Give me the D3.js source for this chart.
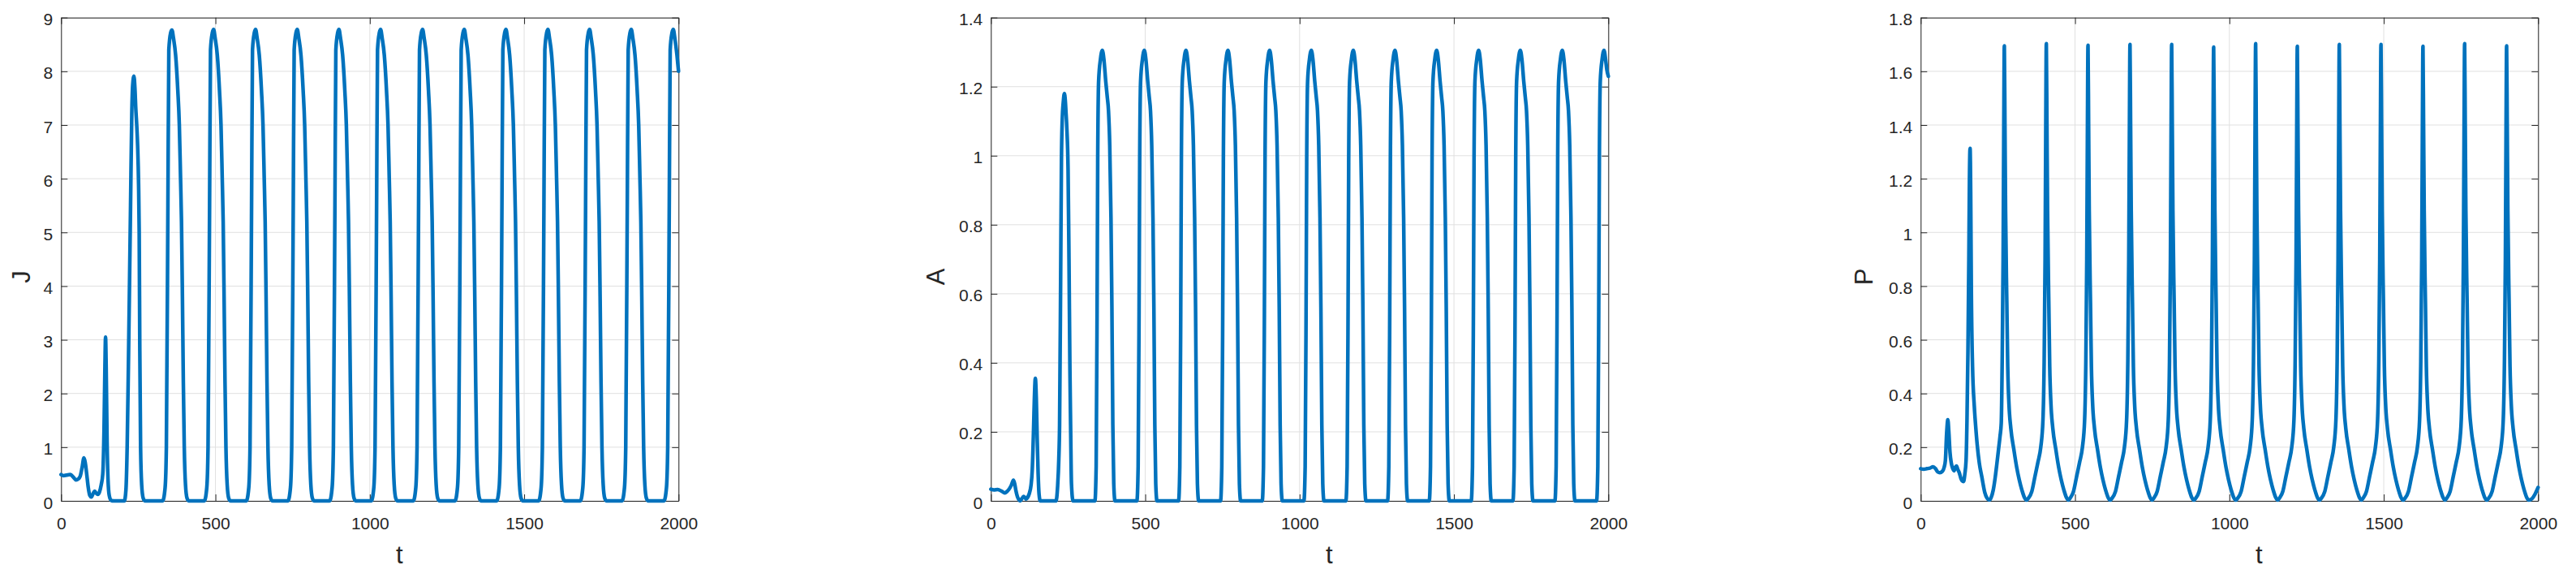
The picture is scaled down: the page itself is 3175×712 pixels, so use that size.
<!DOCTYPE html>
<html>
<head>
<meta charset="utf-8">
<script src="https://cdn.jsdelivr.net/npm/d3@7/dist/d3.min.js"></script>
<style>
  html, body { margin: 0; padding: 0; background: #ffffff; }
  svg { display: block; }
</style>
</head>
<body>
<svg id="chart" width="3175" height="712"></svg>
<script>
// ---------------- data ----------------
const xName = "t";
const yNames = ["J", "A", "P"];
const xTicks = [0, 500, 1000, 1500, 2000];
const xTickLabels = ["0", "500", "1000", "1500", "2000"];
const jTicks = [0, 1, 2, 3, 4, 5, 6, 7, 8, 9];
const jTickLabels = ["0", "1", "2", "3", "4", "5", "6", "7", "8", "9"];
const aTicks = [0, 0.2, 0.4, 0.6, 0.8, 1, 1.2, 1.4];
const aTickLabels = ["0", "0.2", "0.4", "0.6", "0.8", "1", "1.2", "1.4"];
const pTicks = [0, 0.2, 0.4, 0.6, 0.8, 1, 1.2, 1.4, 1.6, 1.8];
const pTickLabels = ["0", "0.2", "0.4", "0.6", "0.8", "1", "1.2", "1.4", "1.6", "1.8"];

// J(t)
const jSeries = [
  [0,0.49],[8,0.47],[18,0.48],[30,0.49],[40,0.44],[48,0.39],[56,0.41],[62,0.46],[68,0.62],[74,0.80],[78,0.72],[83,0.5],[88,0.25],[93,0.1],[98,0.07],[104,0.14],[109,0.18],[114,0.14],[119,0.12],[124,0.16],[130,0.3],[135,0.5],[139,1.3],[142,2.5],[144,3.05],[146,2.5],[149,1.1],[152,0.4],[156,0.1],[162,0.01],[170,0],
  [205,0],[210,0.2],[214,1.0],[218,2.5],[222,4.2],[225,5.5],[229,7.2],[232,7.75],[236,7.91],[239,7.7],[242,7.3],[245,7.0],[248,6.6],[251,5.9],[253,5.0],[255,2.8],[257.5,1.0],[261,0.3],[266,0.05],[272,0],
  [329,0],[337,0.25],[341,1],[346,5.5],[349,8.4],[355,8.72],[359,8.77],[364,8.62],[371,8.3],[378,7.65],[383,7],[387,6],[390,5.2],[393,3.8],[396,2.2],[399,1],[403,0.3],[408,0.05],[414,0],
  [464,0],[472,0.25],[476,1],[481,5.5],[484,8.4],[490,8.72],[494,8.78],[499,8.62],[506,8.3],[513,7.65],[518,7],[522,6],[525,5.2],[528,3.8],[531,2.2],[534,1],[538,0.3],[543,0.05],[549,0],
  [600,0],[608,0.25],[612,1],[617,5.5],[620,8.4],[626,8.72],[630,8.78],[635,8.62],[642,8.3],[649,7.65],[654,7],[658,6],[661,5.2],[664,3.8],[667,2.2],[670,1],[674,0.3],[679,0.05],[685,0],
  [735,0],[743,0.25],[747,1],[752,5.5],[755,8.4],[761,8.72],[765,8.78],[770,8.62],[777,8.3],[784,7.65],[789,7],[793,6],[796,5.2],[799,3.8],[802,2.2],[805,1],[809,0.3],[814,0.05],[820,0],
  [870,0],[878,0.25],[882,1],[887,5.5],[890,8.4],[896,8.72],[900,8.78],[905,8.62],[912,8.3],[919,7.65],[924,7],[928,6],[931,5.2],[934,3.8],[937,2.2],[940,1],[944,0.3],[949,0.05],[955,0],
  [1005,0],[1013,0.25],[1017,1],[1022,5.5],[1025,8.4],[1031,8.72],[1035,8.78],[1040,8.62],[1047,8.3],[1054,7.65],[1059,7],[1063,6],[1066,5.2],[1069,3.8],[1072,2.2],[1075,1],[1079,0.3],[1084,0.05],[1090,0],
  [1141,0],[1149,0.25],[1153,1],[1158,5.5],[1161,8.4],[1167,8.72],[1171,8.78],[1176,8.62],[1183,8.3],[1190,7.65],[1195,7],[1199,6],[1202,5.2],[1205,3.8],[1208,2.2],[1211,1],[1215,0.3],[1220,0.05],[1226,0],
  [1276,0],[1284,0.25],[1288,1],[1293,5.5],[1296,8.4],[1302,8.72],[1306,8.78],[1311,8.62],[1318,8.3],[1325,7.65],[1330,7],[1334,6],[1337,5.2],[1340,3.8],[1343,2.2],[1346,1],[1350,0.3],[1355,0.05],[1361,0],
  [1411,0],[1419,0.25],[1423,1],[1428,5.5],[1431,8.4],[1437,8.72],[1441,8.78],[1446,8.62],[1453,8.3],[1460,7.65],[1465,7],[1469,6],[1472,5.2],[1475,3.8],[1478,2.2],[1481,1],[1485,0.3],[1490,0.05],[1496,0],
  [1547,0],[1555,0.25],[1559,1],[1564,5.5],[1567,8.4],[1573,8.72],[1577,8.78],[1582,8.62],[1589,8.3],[1596,7.65],[1601,7],[1605,6],[1608,5.2],[1611,3.8],[1614,2.2],[1617,1],[1621,0.3],[1626,0.05],[1632,0],
  [1682,0],[1690,0.25],[1694,1],[1699,5.5],[1702,8.4],[1708,8.72],[1712,8.78],[1717,8.62],[1724,8.3],[1731,7.65],[1736,7],[1740,6],[1743,5.2],[1746,3.8],[1749,2.2],[1752,1],[1756,0.3],[1761,0.05],[1767,0],
  [1817,0],[1825,0.25],[1829,1],[1834,5.5],[1837,8.4],[1843,8.72],[1847,8.78],[1852,8.62],[1859,8.3],[1866,7.65],[1871,7],[1875,6],[1878,5.2],[1881,3.8],[1884,2.2],[1887,1],[1891,0.3],[1896,0.05],[1902,0],
  [1953,0],[1961,0.25],[1965,1],[1970,5.5],[1973,8.4],[1979,8.72],[1983,8.78],[1988,8.62],[1995,8.3],[2000,8.0]
];

// A(t)
const aSeries = [
  [0,0.034],[10,0.032],[22,0.033],[35,0.028],[45,0.023],[52,0.027],[58,0.033],[66,0.045],[73,0.06],[77,0.05],[81,0.03],[86,0.012],[91,0.003],[95,0],[100,0.006],[106,0.013],[110,0.01],[114,0.005],[119,0.01],[124,0.02],[130,0.045],[134,0.09],[138,0.2],[141,0.3],[144,0.355],[147,0.3],[150,0.18],[153,0.08],[156,0.02],[160,0],
  [211,0],[216,0.04],[220,0.12],[222.5,0.22],[226,0.65],[228.5,0.98],[231,1.1],[235,1.16],[238,1.18],[241,1.16],[243,1.13],[246,1.08],[250,0.96],[253,0.7],[256,0.38],[258.5,0.2],[261,0.05],[266,0],
  [337,0],[341,0.1],[344,0.55],[346,0.98],[349,1.216],[355,1.28],[361,1.305],[366,1.28],[372,1.216],[377,1.17],[381,1.13],[385,1.03],[389,0.82],[392,0.56],[395,0.22],[398,0.05],[402,0],
  [473,0],[477,0.1],[480,0.55],[482,0.98],[485,1.216],[491,1.28],[497,1.305],[502,1.28],[508,1.216],[513,1.17],[517,1.13],[521,1.03],[525,0.82],[528,0.56],[531,0.22],[534,0.05],[538,0],
  [608,0],[612,0.1],[615,0.55],[617,0.98],[620,1.216],[626,1.28],[632,1.305],[637,1.28],[643,1.216],[648,1.17],[652,1.13],[656,1.03],[660,0.82],[663,0.56],[666,0.22],[669,0.05],[673,0],
  [744,0],[748,0.1],[751,0.55],[753,0.98],[756,1.216],[762,1.28],[768,1.305],[773,1.28],[779,1.216],[784,1.17],[788,1.13],[792,1.03],[796,0.82],[799,0.56],[802,0.22],[805,0.05],[809,0],
  [879,0],[883,0.1],[886,0.55],[888,0.98],[891,1.216],[897,1.28],[903,1.305],[908,1.28],[914,1.216],[919,1.17],[923,1.13],[927,1.03],[931,0.82],[934,0.56],[937,0.22],[940,0.05],[944,0],
  [1014,0],[1018,0.1],[1021,0.55],[1023,0.98],[1026,1.216],[1032,1.28],[1038,1.305],[1043,1.28],[1049,1.216],[1054,1.17],[1058,1.13],[1062,1.03],[1066,0.82],[1069,0.56],[1072,0.22],[1075,0.05],[1079,0],
  [1150,0],[1154,0.1],[1157,0.55],[1159,0.98],[1162,1.216],[1168,1.28],[1174,1.305],[1179,1.28],[1185,1.216],[1190,1.17],[1194,1.13],[1198,1.03],[1202,0.82],[1205,0.56],[1208,0.22],[1211,0.05],[1215,0],
  [1285,0],[1289,0.1],[1292,0.55],[1294,0.98],[1297,1.216],[1303,1.28],[1309,1.305],[1314,1.28],[1320,1.216],[1325,1.17],[1329,1.13],[1333,1.03],[1337,0.82],[1340,0.56],[1343,0.22],[1346,0.05],[1350,0],
  [1420,0],[1424,0.1],[1427,0.55],[1429,0.98],[1432,1.216],[1438,1.28],[1444,1.305],[1449,1.28],[1455,1.216],[1460,1.17],[1464,1.13],[1468,1.03],[1472,0.82],[1475,0.56],[1478,0.22],[1481,0.05],[1485,0],
  [1556,0],[1560,0.1],[1563,0.55],[1565,0.98],[1568,1.216],[1574,1.28],[1580,1.305],[1585,1.28],[1591,1.216],[1596,1.17],[1600,1.13],[1604,1.03],[1608,0.82],[1611,0.56],[1614,0.22],[1617,0.05],[1621,0],
  [1691,0],[1695,0.1],[1698,0.55],[1700,0.98],[1703,1.216],[1709,1.28],[1715,1.305],[1720,1.28],[1726,1.216],[1731,1.17],[1735,1.13],[1739,1.03],[1743,0.82],[1746,0.56],[1749,0.22],[1752,0.05],[1756,0],
  [1827,0],[1831,0.1],[1834,0.55],[1836,0.98],[1839,1.216],[1845,1.28],[1851,1.305],[1856,1.28],[1862,1.216],[1867,1.17],[1871,1.13],[1875,1.03],[1879,0.82],[1882,0.56],[1885,0.22],[1888,0.05],[1892,0],
  [1962,0],[1966,0.1],[1969,0.55],[1971,0.98],[1974,1.216],[1980,1.28],[1986,1.305],[1991,1.28],[1995,1.25],[2000,1.23]
];

// P(t)
const pSeries = [
  [0,0.12],[10,0.118],[20,0.12],[30,0.122],[40,0.127],[48,0.12],[55,0.108],[62,0.105],[70,0.11],[76,0.125],[80,0.15],[84,0.25],[88,0.302],[91,0.26],[95,0.18],[99,0.142],[104,0.12],[108,0.112],[112,0.125],[116,0.13],[120,0.118],[125,0.105],[130,0.085],[134,0.075],[139,0.072],[143,0.1],[147,0.15],[150,0.3],[153,0.55],[156,0.9],[158,1.2],[160,1.313],[162,1.15],[164,0.8],[168,0.5],[173.6,0.354],[178,0.28],[183,0.21],[190,0.14],[198,0.09],[208,0.03],[215,0.01],[221.6,0.003],
  [228,0.012],[235,0.04],[241.7,0.09],[247,0.14],[252,0.19],[257,0.24],[261,0.29],[264,0.52],[267,0.9],[269,1.35],[271,1.695],[273,1.4],[275,1.08],[279,0.74],[282,0.5],[286,0.36],[292,0.27],[302,0.19],[311,0.125],[319,0.08],[328,0.04],[336,0.013],[343,0.003],
  [349,0.01],[360,0.035],[370,0.09],[380,0.145],[389,0.2],[396,0.3],[400,0.52],[403,0.9],[405,1.35],[407,1.703],[409,1.4],[411,1.08],[415,0.74],[418,0.5],[422,0.36],[428,0.27],[438,0.19],[447,0.125],[455,0.08],[464,0.04],[472,0.013],[479,0.003],
  [484,0.01],[495,0.035],[505,0.09],[515,0.145],[524,0.2],[531,0.3],[535,0.52],[538,0.9],[540,1.35],[542,1.697],[544,1.4],[546,1.08],[550,0.74],[553,0.5],[557,0.36],[563,0.27],[573,0.19],[582,0.125],[590,0.08],[599,0.04],[607,0.013],[614,0.003],
  [620,0.01],[631,0.035],[641,0.09],[651,0.145],[660,0.2],[667,0.3],[671,0.52],[674,0.9],[676,1.35],[678,1.7],[680,1.4],[682,1.08],[686,0.74],[689,0.5],[693,0.36],[699,0.27],[709,0.19],[718,0.125],[726,0.08],[735,0.04],[743,0.013],[750,0.003],
  [755,0.01],[766,0.035],[776,0.09],[786,0.145],[795,0.2],[802,0.3],[806,0.52],[809,0.9],[811,1.35],[813,1.7],[815,1.4],[817,1.08],[821,0.74],[824,0.5],[828,0.36],[834,0.27],[844,0.19],[853,0.125],[861,0.08],[870,0.04],[878,0.013],[885,0.003],
  [891,0.01],[902,0.035],[912,0.09],[922,0.145],[931,0.2],[938,0.3],[942,0.52],[945,0.9],[947,1.35],[949,1.69],[951,1.4],[953,1.08],[957,0.74],[960,0.5],[964,0.36],[970,0.27],[980,0.19],[989,0.125],[997,0.08],[1006,0.04],[1014,0.013],[1021,0.003],
  [1027,0.01],[1038,0.035],[1048,0.09],[1058,0.145],[1067,0.2],[1074,0.3],[1078,0.52],[1081,0.9],[1083,1.35],[1085,1.703],[1087,1.4],[1089,1.08],[1093,0.74],[1096,0.5],[1100,0.36],[1106,0.27],[1116,0.19],[1125,0.125],[1133,0.08],[1142,0.04],[1150,0.013],[1157,0.003],
  [1162,0.01],[1173,0.035],[1183,0.09],[1193,0.145],[1202,0.2],[1209,0.3],[1213,0.52],[1216,0.9],[1218,1.35],[1220,1.693],[1222,1.4],[1224,1.08],[1228,0.74],[1231,0.5],[1235,0.36],[1241,0.27],[1251,0.19],[1260,0.125],[1268,0.08],[1277,0.04],[1285,0.013],[1292,0.003],
  [1298,0.01],[1309,0.035],[1319,0.09],[1329,0.145],[1338,0.2],[1345,0.3],[1349,0.52],[1352,0.9],[1354,1.35],[1356,1.7],[1358,1.4],[1360,1.08],[1364,0.74],[1367,0.5],[1371,0.36],[1377,0.27],[1387,0.19],[1396,0.125],[1404,0.08],[1413,0.04],[1421,0.013],[1428,0.003],
  [1433,0.01],[1444,0.035],[1454,0.09],[1464,0.145],[1473,0.2],[1480,0.3],[1484,0.52],[1487,0.9],[1489,1.35],[1491,1.7],[1493,1.4],[1495,1.08],[1499,0.74],[1502,0.5],[1506,0.36],[1512,0.27],[1522,0.19],[1531,0.125],[1539,0.08],[1548,0.04],[1556,0.013],[1563,0.003],
  [1569,0.01],[1580,0.035],[1590,0.09],[1600,0.145],[1609,0.2],[1616,0.3],[1620,0.52],[1623,0.9],[1625,1.35],[1627,1.693],[1629,1.4],[1631,1.08],[1635,0.74],[1638,0.5],[1642,0.36],[1648,0.27],[1658,0.19],[1667,0.125],[1675,0.08],[1684,0.04],[1692,0.013],[1699,0.003],
  [1704,0.01],[1715,0.035],[1725,0.09],[1735,0.145],[1744,0.2],[1751,0.3],[1755,0.52],[1758,0.9],[1760,1.35],[1762,1.703],[1764,1.4],[1766,1.08],[1770,0.74],[1773,0.5],[1777,0.36],[1783,0.27],[1793,0.19],[1802,0.125],[1810,0.08],[1819,0.04],[1827,0.013],[1834,0.003],
  [1840,0.01],[1851,0.035],[1861,0.09],[1871,0.145],[1880,0.2],[1887,0.3],[1891,0.52],[1894,0.9],[1896,1.35],[1898,1.695],[1900,1.4],[1902,1.08],[1906,0.74],[1909,0.5],[1913,0.36],[1919,0.27],[1929,0.19],[1938,0.125],[1946,0.08],[1955,0.04],[1963,0.013],[1970,0.003],
  [1980,0.008],[1990,0.025],[2000,0.05]
];

// ---------------- drawing ----------------
const svg = d3.select("#chart");
const FONT = "'Liberation Sans', Arial, Helvetica, sans-serif";
const TEXT = "#262626";
const GRID = "#e0e0e0";
const LINE = "#0072BD";

const plotW = 761, plotTop = 21.7, plotBottom = 617;
const panels = [
  { series: jSeries, ticks: jTicks, labels: jTickLabels, yMax: 9,   name: yNames[0], left: 75.3,   labelX: 37 },
  { series: aSeries, ticks: aTicks, labels: aTickLabels, yMax: 1.4, name: yNames[1], left: 1221.3, labelX: 1163.5 },
  { series: pSeries, ticks: pTicks, labels: pTickLabels, yMax: 1.8, name: yNames[2], left: 2367.3, labelX: 2308 }
];

panels.forEach(p => {
  const x = d3.scaleLinear().domain([0, 2000]).range([p.left, p.left + plotW]);
  const y = d3.scaleLinear().domain([0, p.yMax]).range([plotBottom, plotTop]);
  const g = svg.append("g");

  // grid
  g.append("g").selectAll("line").data(xTicks).join("line")
    .attr("x1", d => x(d)).attr("x2", d => x(d))
    .attr("y1", plotTop).attr("y2", plotBottom)
    .attr("stroke", GRID).attr("stroke-width", 1);
  g.append("g").selectAll("line").data(p.ticks).join("line")
    .attr("x1", p.left).attr("x2", p.left + plotW)
    .attr("y1", d => y(d)).attr("y2", d => y(d))
    .attr("stroke", GRID).attr("stroke-width", 1);

  const styleAxis = sel => {
    sel.attr("font-family", FONT).attr("font-size", 21).style("color", TEXT);
    sel.select(".domain").attr("stroke-width", 1);
    sel.selectAll(".tick line").attr("stroke-width", 1);
  };

  // bottom axis with labels
  g.append("g").attr("transform", `translate(0,${plotBottom})`)
    .call(d3.axisBottom(x).tickValues(xTicks).tickFormat((d, i) => xTickLabels[i])
      .tickSizeInner(-8).tickSizeOuter(0).tickPadding(20))
    .call(styleAxis);
  // top axis
  g.append("g").attr("transform", `translate(0,${plotTop})`)
    .call(d3.axisTop(x).tickValues(xTicks).tickFormat("")
      .tickSizeInner(-8).tickSizeOuter(0))
    .call(styleAxis);
  // left axis with labels
  g.append("g").attr("transform", `translate(${p.left},0)`)
    .call(d3.axisLeft(y).tickValues(p.ticks).tickFormat((d, i) => p.labels[i])
      .tickSizeInner(-8).tickSizeOuter(0).tickPadding(10))
    .call(styleAxis)
    .selectAll(".tick text").attr("dy", "0.43em");
  // right axis
  g.append("g").attr("transform", `translate(${p.left + plotW},0)`)
    .call(d3.axisRight(y).tickValues(p.ticks).tickFormat("")
      .tickSizeInner(-8).tickSizeOuter(0))
    .call(styleAxis);

  // axis titles
  g.append("text")
    .attr("transform", `translate(${p.labelX},341) rotate(-90)`)
    .attr("text-anchor", "middle")
    .attr("font-family", FONT).attr("font-size", 31).attr("fill", TEXT)
    .text(p.name);
  g.append("text")
    .attr("x", p.left + 417).attr("y", 694)
    .attr("text-anchor", "middle")
    .attr("font-family", FONT).attr("font-size", 31).attr("fill", TEXT)
    .text(xName);

  // data line
  const line = d3.line().x(d => x(d[0])).y(d => y(d[1])).curve(d3.curveMonotoneX);
  g.append("path").datum(p.series)
    .attr("d", line)
    .attr("fill", "none")
    .attr("stroke", LINE)
    .attr("stroke-width", 4.5)
    .attr("stroke-linejoin", "round")
    .attr("stroke-linecap", "round");
});
</script>
</body>
</html>
